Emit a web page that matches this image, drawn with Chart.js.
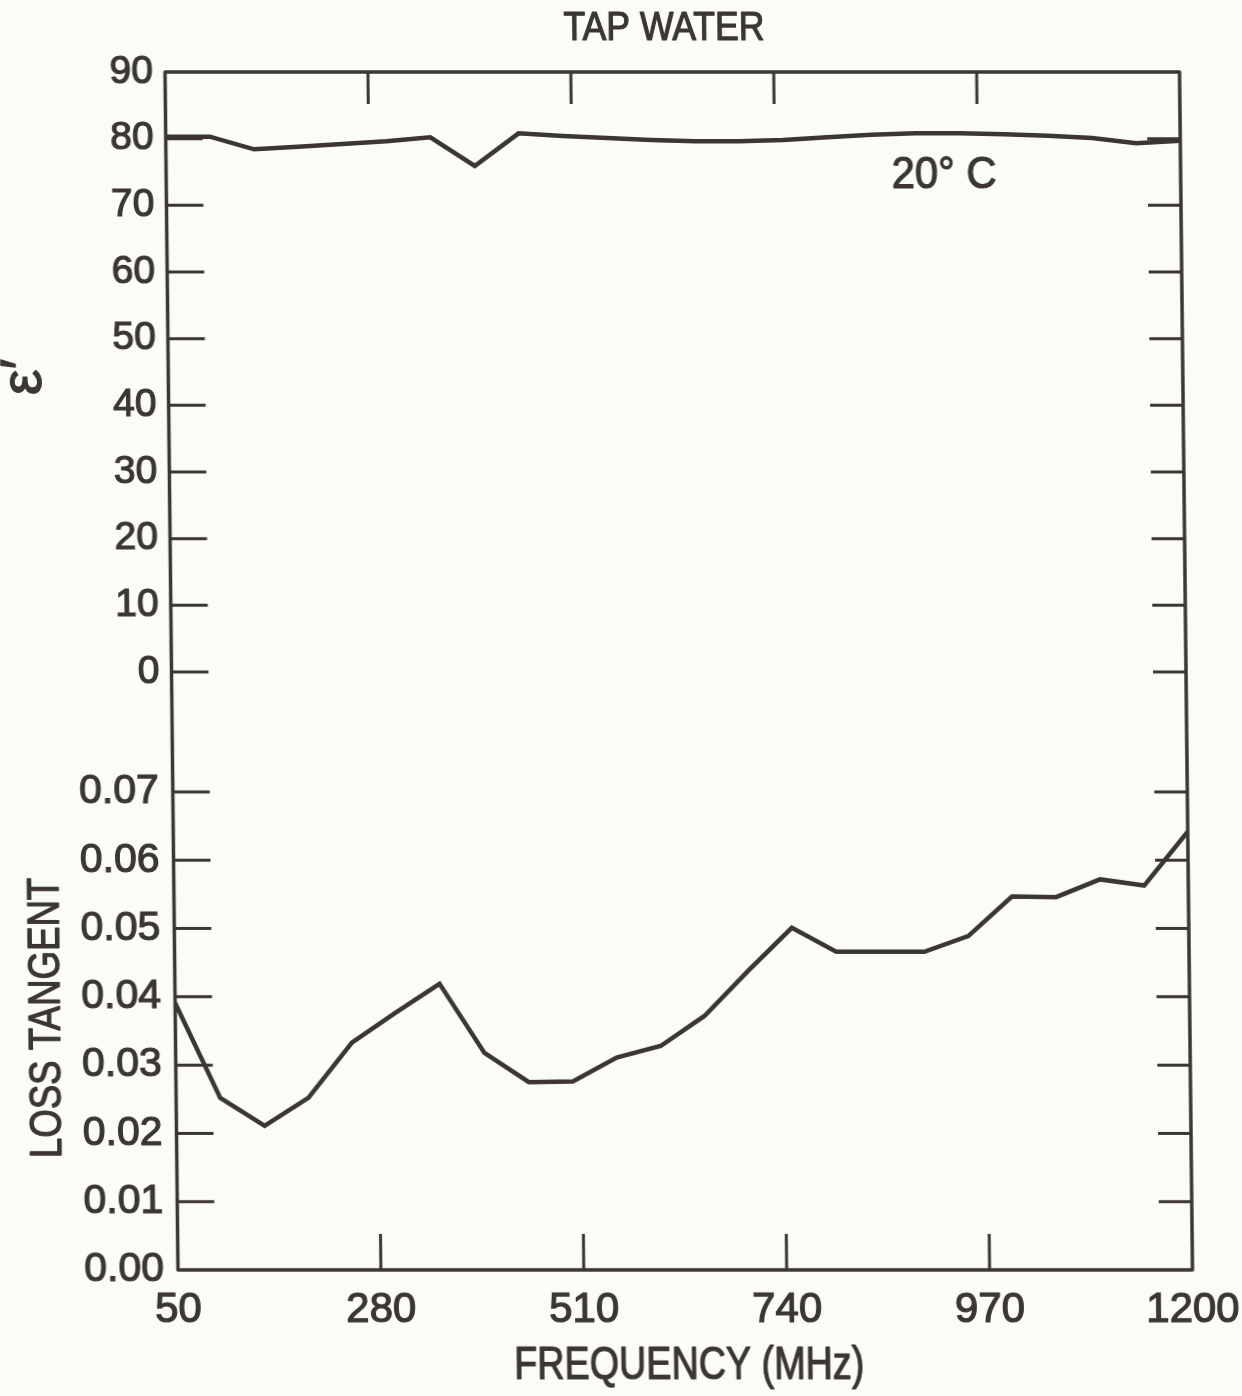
<!DOCTYPE html>
<html>
<head>
<meta charset="utf-8">
<title>Tap water – permittivity and loss tangent</title>
<script src="https://cdn.jsdelivr.net/npm/chart.js@4.4.1/dist/chart.umd.min.js"></script>
<style>
  html, body { margin: 0; padding: 0; background: #fcfcf6; }
  #wrap { width: 1242px; height: 1396px; overflow: hidden; }
  /* the drafted frame leans slightly to the right towards the bottom */
  canvas { display: block; transform: skewX(0.62deg); transform-origin: 621px 671px; }
</style>
</head>
<body>
<div id="wrap"><canvas id="chart" width="1242" height="1396"></canvas></div>
<script>
// Frequency sweep (MHz), measured every 50 MHz
const frequencies = [50, 100, 150, 200, 250, 300, 350, 400, 450, 500, 550, 600,
                     650, 700, 750, 800, 850, 900, 950, 1000, 1050, 1100, 1150, 1200];

// Relative permittivity ε′ of tap water at 20 °C
const permittivity = [80.3, 80.3, 78.4, 78.8, 79.2, 79.6, 80.2, 75.9, 80.8, 80.4, 80.1, 79.8,
                      79.6, 79.6, 79.8, 80.2, 80.6, 80.8, 80.8, 80.65, 80.45, 80.1, 79.3, 79.7];

// Loss tangent of tap water at 20 °C
const lossTangent = [0.0391, 0.0252, 0.0211, 0.0252, 0.0333, 0.0377, 0.0419, 0.0318, 0.0275, 0.0276, 0.0311, 0.0328,
                     0.0372, 0.0438, 0.0501, 0.0466, 0.0466, 0.0466, 0.0489, 0.0547, 0.0546, 0.0572, 0.0563, 0.0642];

// Axis tick values
const freqTicks = [50, 280, 510, 740, 970, 1200];
const permTicks = [0, 10, 20, 30, 40, 50, 60, 70, 80, 90];
const lossTicks = [0, 0.01, 0.02, 0.03, 0.04, 0.05, 0.06, 0.07];

// Texts
const chartTitle = 'TAP WATER';
const xTitle = 'FREQUENCY (MHz)';
const permTitle = 'ε′';
const lossTitle = 'LOSS TANGENT';
const tempNote = '20° C';

const ink = '#3b3536';
const face = 'Liberation Sans, Arial, Helvetica, sans-serif';

function toPoints(ys) {
  return frequencies.map((f, i) => ({ x: f, y: ys[i] }));
}

// draws a text at (x, y), optionally rotated and horizontally condensed,
// with a thin outline so the strokes look like pen lettering
function put(ctx, text, x, y, size, rot, squeeze, align, baseline) {
  ctx.save();
  ctx.translate(x, y);
  ctx.rotate(rot || 0);
  ctx.scale(squeeze || 1, 1);
  ctx.font = size + 'px ' + face;
  ctx.fillStyle = ink;
  ctx.strokeStyle = ink;
  ctx.lineWidth = 1.2;
  ctx.lineJoin = 'round';
  ctx.textAlign = align || 'center';
  ctx.textBaseline = baseline || 'middle';
  ctx.fillText(text, 0, 0);
  ctx.strokeText(text, 0, 0);
  ctx.restore();
}

// frame, inward tick marks and the lettering around the plot
const framePlugin = {
  id: 'framePlugin',
  afterDatasetsDraw(chart) {
    const { ctx, chartArea: a, scales } = chart;
    const xs = scales.x, eps = scales.eps, tan = scales.tan;
    ctx.save();
    ctx.strokeStyle = ink;
    ctx.lineCap = 'butt';
    ctx.lineWidth = 3;
    ctx.beginPath();
    freqTicks.slice(1, -1).forEach(v => {
      const px = xs.getPixelForValue(v);
      ctx.moveTo(px, a.top); ctx.lineTo(px, a.top + 32);
      ctx.moveTo(px, a.bottom); ctx.lineTo(px, a.bottom - 36);
    });
    permTicks.filter(v => v < 90).forEach(v => {
      const py = eps.getPixelForValue(v);
      ctx.moveTo(a.left, py); ctx.lineTo(a.left + 37, py);
      ctx.moveTo(a.right, py); ctx.lineTo(a.right - 33, py);
    });
    lossTicks.filter(v => v > 0).forEach(v => {
      const py = tan.getPixelForValue(v);
      ctx.moveTo(a.left, py); ctx.lineTo(a.left + 37, py);
      ctx.moveTo(a.right, py); ctx.lineTo(a.right - 33, py);
    });
    ctx.stroke();

    ctx.lineWidth = 3.5;
    ctx.lineJoin = 'round';
    ctx.strokeRect(a.left, a.top, a.right - a.left, a.bottom - a.top);

    put(ctx, chartTitle, 671, 29, 40, 0, 0.89);
    put(ctx, xTitle, (a.left + a.right) / 2 + 3, 1366, 46, 0, 0.82);
    put(ctx, permTitle, 28, 377, 58, -Math.PI / 2, 1);
    put(ctx, lossTitle, 44, 1018, 45, -Math.PI / 2, 0.815);
    put(ctx, tempNote, 897, 188, 44, 0, 0.95, 'left', 'alphabetic');
    ctx.restore();
  }
};

const tickFont = size => ({ family: face, size: size, lineHeight: 1 });

new Chart(document.getElementById('chart'), {
  type: 'line',
  data: {
    datasets: [
      {
        label: 'ε′',
        data: toPoints(permittivity),
        yAxisID: 'eps',
        borderColor: ink,
        borderWidth: 4.5,
        pointRadius: 0,
        tension: 0,
        fill: false
      },
      {
        label: 'Loss tangent',
        data: toPoints(lossTangent),
        yAxisID: 'tan',
        borderColor: ink,
        borderWidth: 4.5,
        pointRadius: 0,
        tension: 0,
        fill: false
      }
    ]
  },
  options: {
    responsive: false,
    animation: false,
    devicePixelRatio: 1,
    layout: { padding: { top: 72, right: 56, bottom: 0, left: 0 } },
    plugins: {
      legend: { display: false },
      tooltip: { enabled: false },
      title: { display: false }
    },
    scales: {
      x: {
        type: 'linear',
        position: 'bottom',
        min: 50,
        max: 1200,
        afterBuildTicks: s => { s.ticks = freqTicks.map(v => ({ value: v })); },
        afterFit: s => { s.height = 126; s.paddingLeft = 0; s.paddingRight = 0; },
        grid: { display: false, drawTicks: false },
        border: { display: false },
        ticks: {
          padding: 19,
          autoSkip: false,
          maxRotation: 0,
          color: ink,
          textStrokeColor: ink,
          textStrokeWidth: 1.2,
          font: tickFont(42),
          callback: v => String(v)
        }
      },
      tan: {
        type: 'linear',
        position: 'left',
        stack: 'left',
        stackWeight: 538,
        min: 0,
        max: 0.078787,
        afterBuildTicks: s => { s.ticks = lossTicks.map(v => ({ value: v })); },
        afterFit: s => { s.width = 171.5; },
        grid: { display: false, drawTicks: false },
        border: { display: false },
        ticks: {
          padding: 14,
          autoSkip: false,
          color: ink,
          textStrokeColor: ink,
          textStrokeWidth: 1.2,
          font: tickFont(41),
          callback: v => Number(v).toFixed(2)
        }
      },
      eps: {
        type: 'linear',
        position: 'left',
        stack: 'left',
        stackWeight: 660,
        min: -9,
        max: 90,
        afterBuildTicks: s => { s.ticks = permTicks.map(v => ({ value: v })); },
        afterFit: s => { s.width = 171.5; },
        grid: { display: false, drawTicks: false },
        border: { display: false },
        ticks: {
          padding: 12,
          autoSkip: false,
          color: ink,
          textStrokeColor: ink,
          textStrokeWidth: 1.2,
          font: tickFont(39),
          callback: v => String(v)
        }
      }
    }
  },
  plugins: [framePlugin]
});
</script>
</body>
</html>
